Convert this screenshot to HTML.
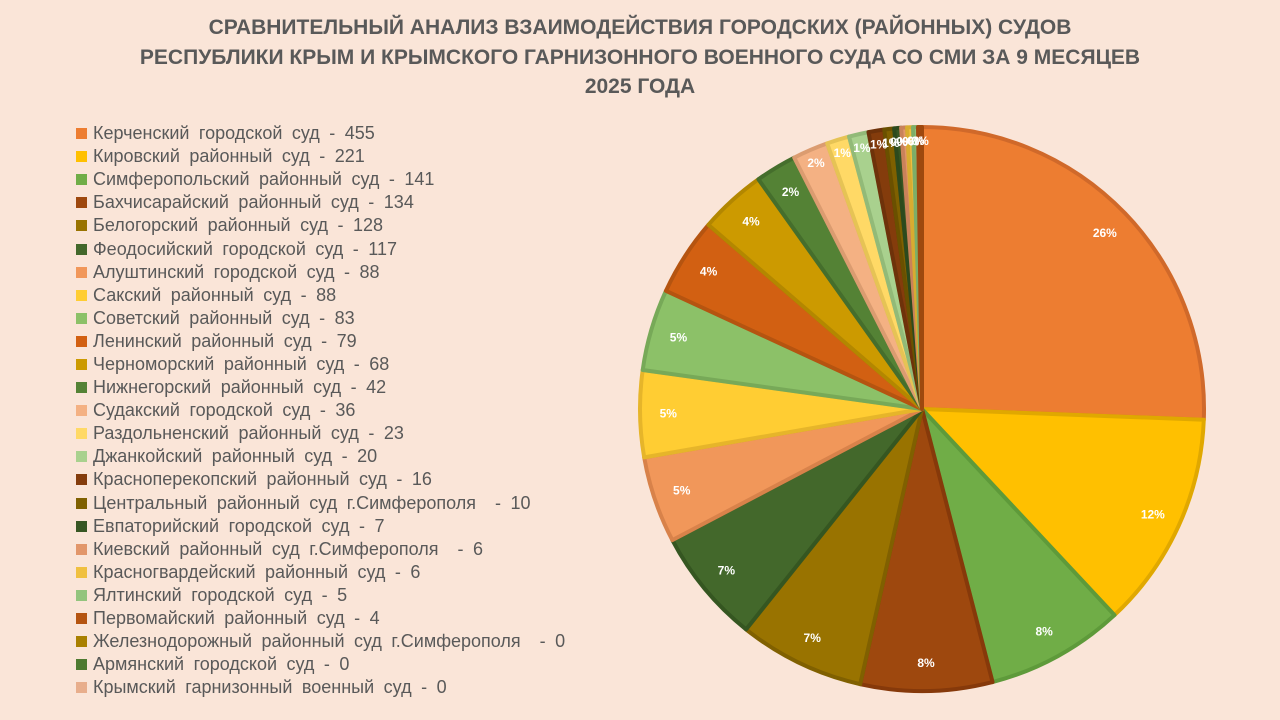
<!DOCTYPE html>
<html><head><meta charset="utf-8">
<style>
body{margin:0;width:1280px;height:720px;background:#FAE5D8;font-family:"Liberation Sans",sans-serif;overflow:hidden;position:relative}
#title{position:absolute;left:0;top:13px;width:1280px;text-align:center;color:#595959;font-weight:bold;font-size:21px;line-height:29.5px}
#legend{position:absolute;left:76px;top:122px}
.li{height:23.1px;display:flex;align-items:center;font-size:18px;color:#595959;word-spacing:4.5px;white-space:pre}
.sw{width:11px;height:11px;margin-right:6px;flex:none}
svg{position:absolute;left:0;top:0}
</style></head><body>
<div id="title">СРАВНИТЕЛЬНЫЙ АНАЛИЗ ВЗАИМОДЕЙСТВИЯ ГОРОДСКИХ (РАЙОННЫХ) СУДОВ<br>РЕСПУБЛИКИ КРЫМ И КРЫМСКОГО ГАРНИЗОННОГО ВОЕННОГО СУДА СО СМИ ЗА 9 МЕСЯЦЕВ<br>2025 ГОДА</div>
<div id="legend"></div>
<svg id="chart" width="1280" height="720"></svg>
<script>
const categories=["Керченский городской суд","Кировский районный суд","Симферопольский районный суд","Бахчисарайский районный суд","Белогорский районный суд","Феодосийский городской суд","Алуштинский городской суд","Сакский районный суд","Советский районный суд","Ленинский районный суд","Черноморский районный суд","Нижнегорский районный суд","Судакский городской суд","Раздольненский районный суд","Джанкойский районный суд","Красноперекопский районный суд","Центральный районный суд г.Симферополя ","Евпаторийский городской суд","Киевский районный суд г.Симферополя ","Красногвардейский районный суд","Ялтинский городской суд","Первомайский районный суд","Железнодорожный районный суд г.Симферополя ","Армянский городской суд","Крымский гарнизонный военный суд"];
const values=[455,221,141,134,128,117,88,88,83,79,68,42,36,23,20,16,10,7,6,6,5,4,0,0,0];
const colors=["#ED7D31","#FFC000","#70AD47","#9E480E","#997300","#43682B","#F1975A","#FFCD33","#8CC168","#D26012","#CC9A00","#548235","#F4B183","#FFD966","#A9D18E","#843C0C","#7F6000","#375623","#E2966A","#F0C040","#93C47D","#B55410","#A98000","#4E7A30","#E8AE8C"];
const borders=["#D0692A","#E0A800","#5E9A3A","#86390A","#806000","#355621","#D8824A","#E6B52A","#77A958","#B55410","#B38700","#456E2C","#DB9C70","#E6C355","#92BA78","#6E320A","#6A5000","#2C4A1D","#C9825A","#D8AC30","#7DAE68","#9E480E","#917000","#3F6528","#CF9878"];
const svg=document.getElementById('chart'),NS="http://www.w3.org/2000/svg";
const cx=922,cy=409,r=282;
const total=values.reduce((a,b)=>a+b,0);
const leg=document.getElementById('legend');
categories.forEach((c,i)=>{
 const d=document.createElement('div');d.className='li';
 
 
 d.innerHTML='<span class="sw" style="background:'+colors[i]+'"></span>'+c+' - '+values[i];
 leg.appendChild(d);
});
let a=0;
const labels=[];
values.forEach((v,i)=>{
 const a0=a,a1=a+v/total*2*Math.PI;a=a1;
 if(v<=0)return;
 const p=t=>[cx+r*Math.sin(t),cy-r*Math.cos(t)];
 const [x0,y0]=p(a0),[x1,y1]=p(a1);
 const path=document.createElementNS(NS,'path');
 path.setAttribute('d',`M${cx},${cy}L${x0},${y0}A${r},${r} 0 ${a1-a0>Math.PI?1:0} 1 ${x1},${y1}Z`);
 path.setAttribute('fill',colors[i]);path.setAttribute('stroke',borders[i]);path.setAttribute('stroke-width','4');path.setAttribute('stroke-linejoin','round');
 
 
 svg.appendChild(path);
 const m=(a0+a1)/2,lr=r*(i<12?0.9:0.95);
 labels.push([cx+lr*Math.sin(m),cy-lr*Math.cos(m),Math.round(v/total*100)+'%']);
});
labels.forEach(l=>{
 const t=document.createElementNS(NS,'text');
 t.setAttribute('x',l[0]);t.setAttribute('y',l[1]+4);t.setAttribute('text-anchor','middle');
 t.setAttribute('fill','#fff');t.setAttribute('font-size','12');t.setAttribute('font-weight','bold');
 t.setAttribute('font-family','Liberation Sans, sans-serif');
 
 
 t.textContent=l[2];svg.appendChild(t);
});
</script>
</body></html>
